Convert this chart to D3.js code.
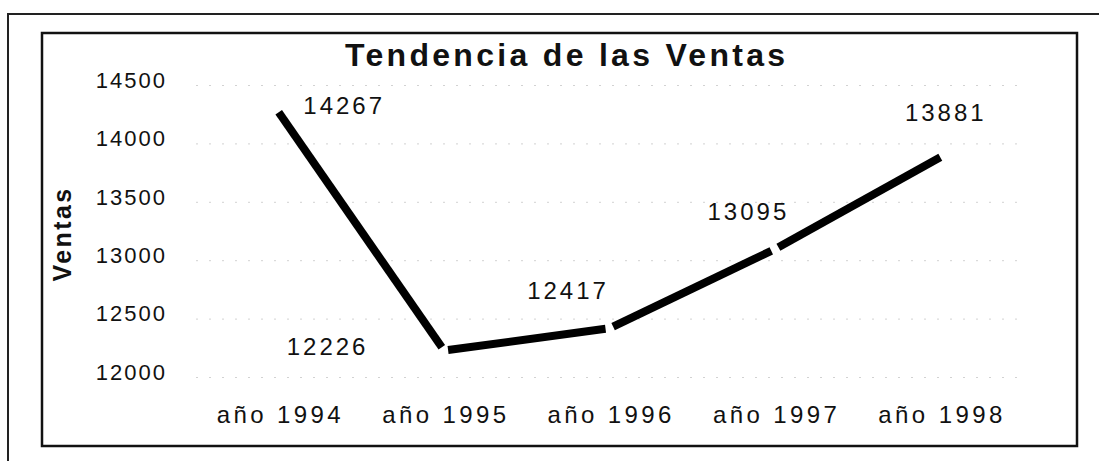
<!DOCTYPE html>
<html>
<head>
<meta charset="utf-8">
<script src="https://cdn.jsdelivr.net/npm/d3@7"></script>
<style>
  html, body { margin: 0; padding: 0; background: #fff; }
  svg { display: block; font-family: "Liberation Sans", Arial, sans-serif; }
</style>
</head>
<body>
<div id="chart"></div>
<script>
// DATA
const years = ["año 1994", "año 1995", "año 1996", "año 1997", "año 1998"]
const ventas = [14267, 12226, 12417, 13095, 13881]
const yTicks = [12000, 12500, 13000, 13500, 14000, 14500]

// label nudges (layout only)
const labelDx = [64, -118, -43, -28, 4]
const labelDy = [-7, -4, -38, -38, -45]

const width = 1099, height = 461

const svg = d3.select("#chart")
  .append("svg")
  .attr("width", width)
  .attr("height", height)

// frames: outer scan border + chart box
svg.append("path")
  .attr("d", "M8,461V14H1099")
  .attr("fill", "none")
  .attr("stroke", "#222")
  .attr("stroke-width", 2)

svg.append("rect")
  .attr("x", 42).attr("y", 33)
  .attr("width", 1035).attr("height", 413)
  .attr("fill", "none")
  .attr("stroke", "#111")
  .attr("stroke-width", 2.5)

// SCALES
const xScale = d3.scaleBand()
  .domain(years)
  .range([196, 1023])

const yScale = d3.scaleLinear()
  .domain([12000, 14500])
  .range([377, 85])

const xc = d => xScale(d) + xScale.bandwidth() / 2

// Y AXIS + faint gridlines
const yAxis = svg.append("g")
  .attr("transform", "translate(196,0)")
  .call(d3.axisLeft(yScale)
    .tickValues(yTicks)
    .tickSize(-827)
    .tickPadding(29)
    .tickFormat(d3.format("d")))

yAxis.select(".domain").remove()
yAxis.selectAll(".tick line")
  .attr("stroke", "#d2d2d2")
  .attr("stroke-width", 1)
  .attr("stroke-dasharray", "2,11")
yAxis.selectAll(".tick text")
  .attr("fill", "#111")
  .attr("font-size", 22)
  .attr("letter-spacing", "2px")
  .attr("dy", "0.1em")

// X AXIS labels
const xAxis = svg.append("g")
  .attr("transform", "translate(0,423)")
  .call(d3.axisBottom(xScale).tickSize(0))

xAxis.select(".domain").remove()
xAxis.selectAll(".tick text")
  .attr("y", 0)
  .attr("dy", 0)
  .attr("dx", "1.7px")
  .attr("fill", "#111")
  .attr("font-size", 24)
  .attr("letter-spacing", "3.4px")

// axis title
svg.append("text")
  .attr("transform", "translate(71,234) rotate(-90)")
  .attr("text-anchor", "middle")
  .attr("font-size", 25)
  .attr("font-weight", "bold")
  .attr("letter-spacing", "2.4px")
  .attr("fill", "#111")
  .text("Ventas")

// chart title
svg.append("text")
  .attr("x", 345)
  .attr("y", 66)
  .attr("font-size", 32)
  .attr("font-weight", "bold")
  .attr("letter-spacing", "3.3px")
  .attr("fill", "#111")
  .text("Tendencia de las Ventas")

// LINE: drawn as separate segments with small breaks at inner points
const pts = ventas.map((v, i) => [xc(years[i]), yScale(v)])
const gap = 4
const segs = d3.pairs(pts).map(([a, b], i) => {
  const dx = b[0] - a[0], dy = b[1] - a[1]
  const len = Math.hypot(dx, dy)
  const s = i === 0 ? 0 : gap
  const e = i === pts.length - 2 ? 0 : gap
  return [
    [a[0] + dx * s / len, a[1] + dy * s / len],
    [b[0] - dx * e / len, b[1] - dy * e / len]
  ]
})

svg.selectAll("path.seg")
  .data(segs)
  .join("path")
    .attr("class", "seg")
    .attr("d", d3.line())
    .attr("fill", "none")
    .attr("stroke", "#000")
    .attr("stroke-width", 8)
    .attr("stroke-linecap", "butt")

// DATA LABELS
svg.selectAll("text.val")
  .data(ventas)
  .join("text")
    .attr("class", "val")
    .attr("x", (d, i) => xc(years[i]) + labelDx[i] + 1.5)
    .attr("y", (d, i) => yScale(d) + labelDy[i])
    .attr("dy", "0.36em")
    .attr("text-anchor", "middle")
    .attr("font-size", 24)
    .attr("letter-spacing", "3px")
    .attr("fill", "#111")
    .text(d => d)
</script>
</body>
</html>
